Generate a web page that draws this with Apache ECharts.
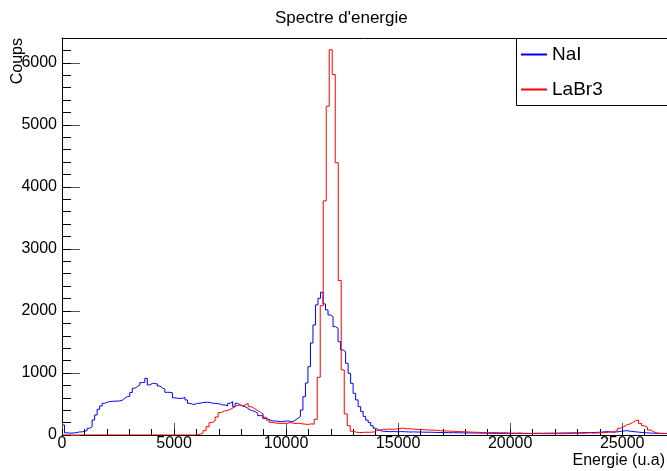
<!DOCTYPE html>
<html><head><meta charset="utf-8">
<script src="https://cdn.jsdelivr.net/npm/echarts@6/dist/echarts.min.js"></script>
<style>html,body{margin:0;padding:0;background:#fff}#c{width:667px;height:471px}</style>
</head><body><div id="c"></div>
<script>
const titleText = "Spectre d'energie";
const xTitle = "Energie (u.a)";
const yTitle = "Coups";
const seriesNames = ["NaI", "LaBr3"];
const seriesColors = ["#0000ff", "#ff0000"];
const binWidthNaI = 112;
const binWidthLaBr3 = 134;
const countsNaI = [
161,35,30,30,35,40,50,50,60,70,108,134,242,323,414,468,511,527,540,543,
545,548,548,560,591,618,625,683,753,780,806,844,850,914,806,833,830,823,790,758,
740,688,688,680,600,591,591,591,607,565,511,495,495,511,511,522,527,527,527,511,
511,505,500,484,484,468,511,538,457,511,484,470,457,430,403,390,376,349,312,312,
269,260,242,226,226,220,215,215,226,226,220,215,242,269,296,403,618,838,1102,1484,
1774,2097,2204,2301,2113,2016,1935,1909,1747,1720,1505,1371,1344,1156,995,833,672,565,457,380,
300,240,200,150,110,85,70,60,58,55,54,56,54,52,55,54,52,50,48,50,
49,47,48,46,45,44,45,43,42,40,41,40,38,39,37,36,38,35,36,34,
35,33,34,32,33,31,30,30,29,28,27,28,26,27,25,26,27,25,24,26,
25,27,28,26,25,24,26,27,28,29,27,28,30,29,31,30,32,30,33,32,
34,33,35,34,36,35,37,38,40,39,41,40,42,44,46,50,55,52,48,45,
50,55,60,65,70,62,58,54,50,45,40,38,35,33,30,28,27,26,25,25,
24,24
];
const countsLaBr3 = [
0,0,0,0,0,0,0,0,0,0,0,0,0,0,0,0,0,0,0,0,
0,0,0,0,0,0,0,0,0,0,0,0,0,0,0,0,0,0,0,0,
0,0,0,0,3,10,35,70,134,199,230,290,360,387,395,410,440,468,484,470,
484,511,457,430,400,370,340,285,240,205,195,188,188,188,190,199,190,185,190,180,
175,170,180,175,253,930,2085,3774,5300,6210,5810,4390,2490,1050,340,150,60,45,40,40,
45,43,45,50,75,80,91,91,95,91,95,100,108,110,97,100,95,91,90,88,
85,80,80,78,75,70,65,66,62,60,58,55,54,52,50,48,45,45,42,40,
40,38,38,40,38,35,38,35,32,30,28,30,28,25,27,25,24,22,25,22,
20,22,20,22,24,22,20,22,24,26,28,27,30,28,32,35,30,32,35,38,
40,45,50,54,75,108,130,161,175,199,230,242,188,150,124,81,54,35,27,27,
25,25
];
const xMin = 0, xMax = 27000, yMin = 0, yMax = 6400;
const xMajorTicks = [0, 5000, 10000, 15000, 20000, 25000];
const yMajorTicks = [0, 1000, 2000, 3000, 4000, 5000, 6000];
const xMinorTicks = Array.from({length: 28}, (_, i) => i * 1000);
const yMinorTicks = Array.from({length: 33}, (_, i) => i * 200);

const FONT = '"Liberation Sans", Arial, Helvetica, sans-serif';
const plain = v => String(v);

function histPoints(counts, w) {
  const pts = counts.map((c, i) => [i * w, c]);
  pts.push([counts.length * w, counts[counts.length - 1]]);
  return pts;
}

const chart = echarts.init(document.getElementById('c'), null, {renderer: 'canvas'});
chart.setOption({
  animation: false,
  backgroundColor: '#fff',
  title: {
    text: titleText, left: 275, top: 10, padding: 0,
    textStyle: {fontSize: 17, fontWeight: 'normal', color: '#000', fontFamily: FONT}
  },
  grid: {left: 62, top: 38, right: 0, bottom: 36, containLabel: false},
  legend: {
    data: seriesNames.map((n, i) => ({name: n, itemStyle: {color: seriesColors[i]}})),
    orient: 'vertical', left: 521, top: 45, padding: 0,
    itemWidth: 26, itemHeight: 2, icon: 'rect', itemGap: 16, z: 20,
    textStyle: {fontSize: 19, color: '#000', fontFamily: FONT}
  },
  xAxis: [
    {type: 'value', min: xMin, max: xMax, interval: 5000, position: 'bottom',
     axisLine: {show: true, onZero: false, lineStyle: {color: '#000', width: 1}},
     axisTick: {show: true, inside: true, length: 12, customValues: xMajorTicks, lineStyle: {color: '#555'}},
     axisLabel: {show: true, customValues: xMajorTicks, formatter: plain, fontSize: 16, color: '#000', margin: 1, fontFamily: FONT},
     splitLine: {show: false}},
    {type: 'value', min: xMin, max: xMax, interval: 1000, position: 'bottom',
     axisLine: {show: false, onZero: false},
     axisTick: {show: true, inside: true, length: 6, customValues: xMinorTicks, lineStyle: {color: '#000'}},
     axisLabel: {show: false}, splitLine: {show: false}},
    {type: 'value', min: xMin, max: xMax, position: 'top',
     axisLine: {show: true, onZero: false, lineStyle: {color: '#000', width: 1}},
     axisTick: {show: false}, axisLabel: {show: false}, splitLine: {show: false}}
  ],
  yAxis: [
    {type: 'value', min: yMin, max: yMax, interval: 1000, position: 'left',
     axisLine: {show: true, onZero: false, lineStyle: {color: '#000', width: 1}},
     axisTick: {show: true, inside: true, length: 18, customValues: yMajorTicks, lineStyle: {color: '#555'}},
     axisLabel: {show: true, customValues: yMajorTicks, formatter: plain, fontSize: 16, color: '#000', margin: 5, fontFamily: FONT},
     splitLine: {show: false}},
    {type: 'value', min: yMin, max: yMax, interval: 200, position: 'left',
     axisLine: {show: false, onZero: false},
     axisTick: {show: true, inside: true, length: 9, customValues: yMinorTicks, lineStyle: {color: '#000'}},
     axisLabel: {show: false}, splitLine: {show: false}}
  ],
  graphic: [
    {type: 'rect', z: 10, shape: {x: 516.5, y: 38.5, width: 200, height: 67},
     style: {fill: '#fff', stroke: '#000', lineWidth: 1}},
    {type: 'text', z: 10, x: 665, y: 453,
     style: {text: xTitle, fill: '#000', font: '16px ' + FONT, textAlign: 'right', textVerticalAlign: 'top'}},
    {type: 'text', z: 10, x: 18, y: 38, rotation: Math.PI / 2,
     style: {text: yTitle, fill: '#000', font: '16px ' + FONT, textAlign: 'right', textVerticalAlign: 'middle'}}
  ],
  series: [
    {name: seriesNames[0], type: 'line', step: 'end', xAxisIndex: 0, yAxisIndex: 0,
     data: histPoints(countsNaI, binWidthNaI), symbol: 'none', clip: true,
     color: seriesColors[0], lineStyle: {color: seriesColors[0], width: 1}},
    {name: seriesNames[1], type: 'line', step: 'end', xAxisIndex: 0, yAxisIndex: 0,
     data: histPoints(countsLaBr3, binWidthLaBr3), symbol: 'none', clip: true,
     color: seriesColors[1], lineStyle: {color: seriesColors[1], width: 1}}
  ]
});
</script>
</body></html>
